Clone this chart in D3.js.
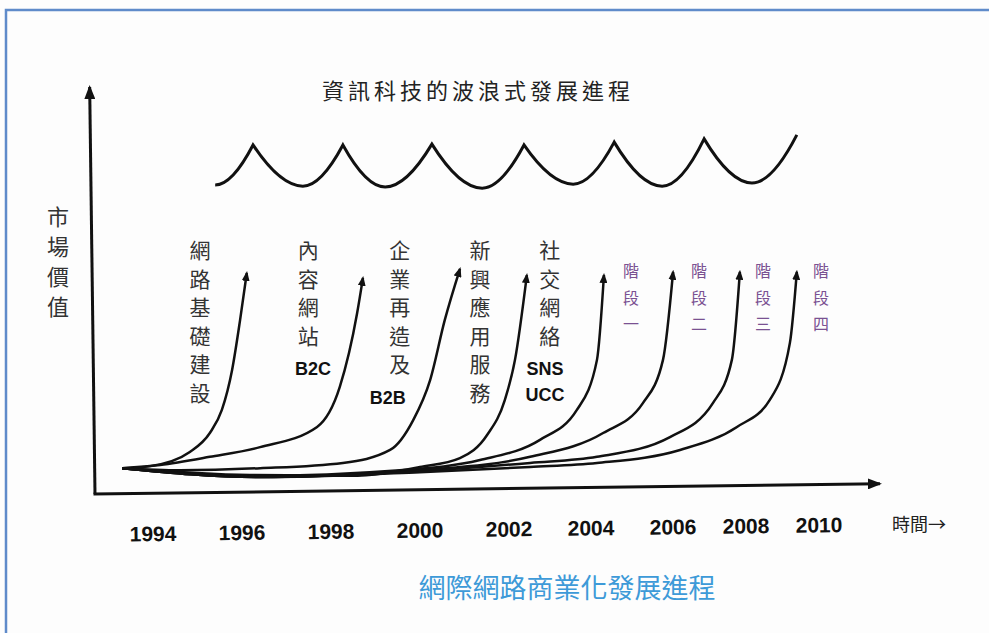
<!DOCTYPE html>
<html>
<head>
<meta charset="utf-8">
<script src="https://cdn.jsdelivr.net/npm/d3@7"></script>
<style>
body { margin: 0; background: #fff; }
svg { display: block; }
</style>
</head>
<body>
<div id="chart"></div>
<script>
/* Data */
var years = [1994, 1996, 1998, 2000, 2002, 2004, 2006, 2008, 2010];

// growth curves: [year, market value]
var curveInfra = [[1993.33, 6.4], [1993.96, 6.9], [1994.85, 10.4], [1995.30, 15.1], [1995.57, 20.8], [1995.80, 30.7], [1995.98, 43.1], [1996.13, 54.7]];
var curveContent = [[1993.33, 6.4], [1994.18, 7.2], [1995.30, 9.2], [1996.43, 11.6], [1997.71, 16.6], [1998.22, 26.5], [1998.61, 44.8], [1998.74, 53.5]];
var curveB2B = [[1993.33, 6.4], [1994.63, 5.9], [1996.43, 6.4], [1998.29, 7.7], [1999.35, 10.9], [1999.87, 18.3], [2000.25, 28.2], [2000.58, 43.1], [2000.92, 55.7]];
var curveApps = [[1993.33, 6.4], [1996.20, 4.7], [1998.45, 4.5], [2000.02, 6.7], [2000.92, 8.9], [2001.53, 14.6], [2001.93, 23.3], [2002.17, 33.2], [2002.46, 54.2]];
var curveSocial = [[1993.33, 6.4], [1996.20, 4.5], [1999.57, 5.9], [2001.37, 8.4], [2002.78, 13.4], [2003.68, 20.8], [2004.17, 33.2], [2004.34, 54.2]];
var curveStage1 = [[1993.33, 6.4], [1996.43, 4.2], [2000.02, 5.9], [2002.54, 9.2], [2004.32, 15.1], [2005.29, 22.5], [2005.78, 33.2], [2006.03, 55.0]];
var curveStage2 = [[1993.33, 6.4], [1996.43, 4.2], [2000.02, 5.7], [2002.54, 7.7], [2004.17, 9.2], [2005.95, 14.1], [2007.12, 22.5], [2007.64, 33.2], [2007.86, 55.0]];
var curveStage3 = [[1993.33, 6.4], [1996.43, 4.2], [2000.02, 5.4], [2002.54, 6.7], [2004.17, 7.7], [2006.22, 10.9], [2007.78, 16.6], [2008.68, 23.3], [2009.23, 37.4], [2009.42, 55.0]];

// the wave on top
var waveTroughs = [[1995.42, 76.5], [1997.39, 76.2], [1999.24, 76.0], [2001.42, 75.7], [2003.59, 76.7], [2005.76, 76.2], [2008.19, 77.0]];
var wavePeaks = [[1996.27, 86.4], [1998.29, 86.4], [2000.29, 86.6], [2002.39, 86.4], [2004.59, 87.1], [2006.88, 87.9], [2009.42, 88.9]];

// stage labels: name, tag, year it sits at
var stageNames = ['網路基礎建設', '內容網站', '企業再造及', '新興應用服務', '社交網絡', '階段一', '階段二', '階段三', '階段四'];
var stageTags = [[], ['B2C'], ['B2B'], [], ['SNS', 'UCC'], [], [], [], []];
var stageYears = [1995.08, 1997.51, 1999.57, 2001.37, 2003.02, 2005.0, 2006.74, 2008.49, 2010.08];
var stageTagYears = [null, 1997.62, 1999.30, null, 2002.90, null, null, null, null];

var title = '資訊科技的波浪式發展進程';
var yLabel = '市場價值';
var xLabel = '時間→';
var caption = '網際網路商業化發展進程';

/* Layout */
var width = 989;
var height = 633;
var originX = 95;
var originY = 494;
var axisRight = 880;
var axisTop = 87;
var cjk = '"Noto Sans CJK TC", "Noto Sans CJK SC", sans-serif';
var latin = '"Liberation Sans", Arial, sans-serif';

/* Scale */
var xScale = d3.scaleLinear()
	.domain([1994, 2002, 2006, 2010])
	.range([152, 508, 672, 818]);

var yScale = d3.scaleLinear()
	.domain([0, 100])
	.range([originY, 90]);

/* Add SVG */
var svg = d3.select('#chart')
	.append('svg')
	.attr('width', width)
	.attr('height', height);

svg.append('rect')
	.attr('width', width)
	.attr('height', height)
	.attr('fill', '#fdfdfd');

// frame
svg.append('path')
	.attr('d', `M6,${height} L6,10 L${width},10`)
	.attr('fill', 'none')
	.attr('stroke', '#5f8bca')
	.attr('stroke-width', 2.5);

var defs = svg.append('defs');
defs.append('marker')
	.attr('id', 'tip')
	.attr('viewBox', '0 0 10 8')
	.attr('refX', 8)
	.attr('refY', 4)
	.attr('markerWidth', 10)
	.attr('markerHeight', 8)
	.attr('markerUnits', 'userSpaceOnUse')
	.attr('orient', 'auto')
	.append('path')
	.attr('d', 'M0,0 L10,4 L0,8 Z')
	.attr('fill', '#111');

defs.append('marker')
	.attr('id', 'axisTip')
	.attr('viewBox', '0 0 14 11')
	.attr('refX', 12)
	.attr('refY', 5.5)
	.attr('markerWidth', 14)
	.attr('markerHeight', 11)
	.attr('markerUnits', 'userSpaceOnUse')
	.attr('orient', 'auto')
	.append('path')
	.attr('d', 'M0,0 L14,5.5 L0,11 Z')
	.attr('fill', '#111');

/* Axes (the scan is slightly tilted) */
var axes = svg.append('g')
	.attr('transform', `rotate(-0.75, ${originX}, ${originY})`);

axes.append('path')
	.attr('d', `M${originX},${originY} L${originX},${axisTop}`)
	.attr('stroke', '#111')
	.attr('stroke-width', 3)
	.attr('marker-end', 'url(#axisTip)');

axes.append('path')
	.attr('d', `M${originX - 1.5},${originY} L${axisRight},${originY}`)
	.attr('stroke', '#111')
	.attr('stroke-width', 3)
	.attr('marker-end', 'url(#axisTip)');

var xAxis = d3.axisBottom(xScale)
	.tickValues(years)
	.tickSize(0)
	.tickPadding(33)
	.tickFormat(d3.format('d'));

var xg = axes.append('g')
	.attr('transform', `translate(0, ${originY})`)
	.call(xAxis);
xg.select('.domain').remove();
xg.selectAll('text')
	.attr('font-family', latin)
	.attr('font-weight', 'bold')
	.attr('font-size', 21)
	.attr('fill', '#111');

svg.append('text')
	.attr('x', 892)
	.attr('y', 523)
	.attr('dominant-baseline', 'central')
	.attr('font-family', cjk)
	.attr('font-size', 18)
	.attr('fill', '#222')
	.text(xLabel);

// y label, one character per row
svg.append('g')
	.selectAll('text')
	.data(yLabel.split(''))
	.enter()
	.append('text')
	.attr('x', 58)
	.attr('y', (d, i) => 215 + i * 30)
	.attr('text-anchor', 'middle')
	.attr('dominant-baseline', 'central')
	.attr('font-family', cjk)
	.attr('font-size', 22)
	.attr('fill', '#333')
	.text(d => d);

/* Title */
svg.append('text')
	.attr('x', 478)
	.attr('y', 89)
	.attr('text-anchor', 'middle')
	.attr('dominant-baseline', 'central')
	.attr('font-family', cjk)
	.attr('font-size', 22)
	.attr('letter-spacing', 4)
	.attr('fill', '#222')
	.text(title);

/* Wave: round troughs, sharp peaks */
var wavePath = d3.path();
waveTroughs.forEach(function(t, i) {
	var tx = xScale(t[0]), ty = yScale(t[1]);
	if (i > 0) {
		var l = wavePeaks[i - 1];
		var lx = xScale(l[0]), ly = yScale(l[1]);
		wavePath.quadraticCurveTo(tx - 0.45 * (tx - lx), ty, tx, ty);
	} else {
		wavePath.moveTo(tx, ty);
	}
	var r = wavePeaks[i];
	var rx = xScale(r[0]), ry = yScale(r[1]);
	wavePath.quadraticCurveTo(tx + 0.45 * (rx - tx), ty, rx, ry);
});

svg.append('path')
	.attr('d', wavePath.toString())
	.attr('fill', 'none')
	.attr('stroke', '#111')
	.attr('stroke-width', 3)
	.attr('stroke-linejoin', 'miter');

/* Growth curves */
var curves = [curveInfra, curveContent, curveB2B, curveApps, curveSocial, curveStage1, curveStage2, curveStage3];

var line = d3.line()
	.x(d => xScale(d[0]))
	.y(d => yScale(d[1]))
	.curve(d3.curveMonotoneX);

svg.append('g')
	.selectAll('path')
	.data(curves)
	.enter()
	.append('path')
	.attr('d', line)
	.attr('fill', 'none')
	.attr('stroke', '#111')
	.attr('stroke-width', 2.5)
	.attr('marker-end', 'url(#tip)');

/* Stage labels */
var labels = svg.append('g')
	.selectAll('g')
	.data(stageNames)
	.enter()
	.append('g');

labels.each(function(name, i) {
	var g = d3.select(this);
	var stage = name.indexOf('階段') === 0;
	var top = stage ? 270 : 249;
	var step = stage ? 26.5 : 28.5;
	var cx = xScale(stageYears[i]);
	g.selectAll('text.ch')
		.data(name.split(''))
		.enter()
		.append('text')
		.attr('class', 'ch')
		.attr('x', cx)
		.attr('y', (d, j) => top + j * step)
		.attr('text-anchor', 'middle')
		.attr('dominant-baseline', 'central')
		.attr('font-family', cjk)
		.attr('font-size', stage ? 16 : 21)
		.attr('fill', stage ? '#7a5192' : '#333')
		.text(d => d);
	var tagTop = top + name.length * step + 6;
	g.selectAll('text.tag')
		.data(stageTags[i])
		.enter()
		.append('text')
		.attr('class', 'tag')
		.attr('x', stageTagYears[i] ? xScale(stageTagYears[i]) : cx)
		.attr('y', (d, j) => tagTop + j * 26)
		.attr('text-anchor', 'middle')
		.attr('dominant-baseline', 'central')
		.attr('font-family', latin)
		.attr('font-weight', 'bold')
		.attr('font-size', 18)
		.attr('fill', '#111')
		.text(d => d);
});

/* Caption */
svg.append('text')
	.attr('x', 567)
	.attr('y', 586)
	.attr('text-anchor', 'middle')
	.attr('dominant-baseline', 'central')
	.attr('font-family', cjk)
	.attr('font-size', 27)
	.attr('fill', '#3d9ad8')
	.text(caption);
</script>
</body>
</html>
